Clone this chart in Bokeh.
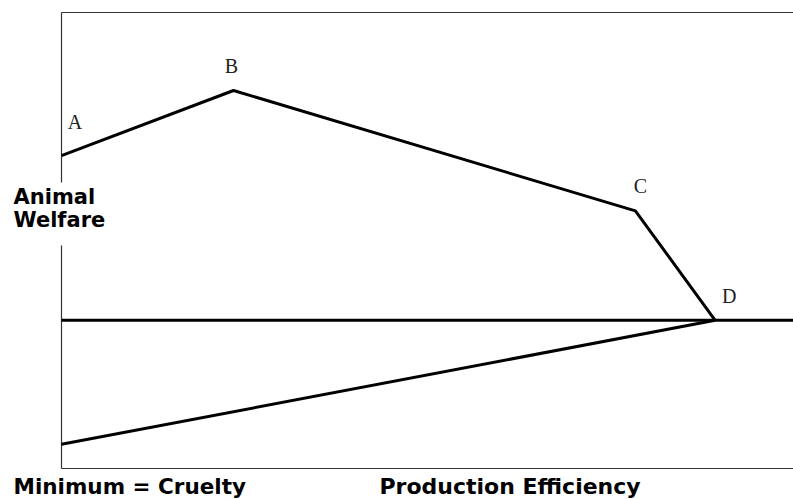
from bokeh.plotting import figure
from bokeh.models import Range1d, Label, ColumnDataSource
from bokeh.core.properties import value
from bokeh.embed import file_html
from bokeh.resources import INLINE

# ---- data (production efficiency 0-100, animal welfare 0-100) ----
point_names = ["A", "B", "C", "D"]
efficiency = [0.0, 23.5, 78.4, 89.3]
welfare = [68.6, 82.9, 56.5, 32.5]
minimum_level = 32.5           # horizontal "minimum welfare" line
cruelty_x = [0.0, 89.3]
cruelty_y = [5.3, 32.5]

# pixel scale helpers (layout only)
PX_X = 7.32
PX_Y = 4.56

p = figure(width=793, height=499, output_backend="svg", toolbar_location=None,
           x_range=Range1d(-61 / PX_X, 100), y_range=Range1d(-31 / PX_Y, 468 / PX_Y),
           min_border=0, min_border_left=0, min_border_right=0,
           min_border_top=0, min_border_bottom=0)
p.xaxis.visible = False
p.yaxis.visible = False
p.grid.visible = False
p.outline_line_color = None
p.background_fill_color = "white"
p.border_fill_color = "white"

border = dict(line_color="#333333", line_width=1.2)
# frame borders: top, bottom, left (with gap for label)
p.segment(x0=[0, 0, 0, 0], y0=[100, 0, 100, 48.9], x1=[100, 100, 0, 0], y1=[100, 0, 62.7, 0], **border)

# curves
p.line(efficiency, welfare, line_color="black", line_width=3)
p.line([0, 100], [minimum_level, minimum_level], line_color="black", line_width=3)
p.line(cruelty_x, cruelty_y, line_color="black", line_width=3)

src = ColumnDataSource(dict(x=efficiency, y=welfare, t=point_names,
                            xo=[13.5, -2, 5, 14], yo=[-34, -24, -24.5, -24]))
p.text(x="x", y="y", text="t", source=src, x_offset="xo", y_offset="yo",
       text_font=value("Liberation Serif"), text_font_size="20px",
       text_align="center", text_baseline="alphabetic", text_color="#222222")

lab = dict(text_font="DejaVu Sans", text_font_style="bold", text_color="black",
           text_baseline="alphabetic")
p.add_layout(Label(x=-48 / PX_X, y=(468 - 196) / PX_Y, text="Animal", text_font_size="21px", **lab))
p.add_layout(Label(x=-48 / PX_X, y=(468 - 219) / PX_Y, text="Welfare", text_font_size="21px", **lab))
p.add_layout(Label(x=-48 / PX_X, y=-18 / PX_Y, text="Minimum = Cruelty", text_font_size="21.5px", **lab))
p.add_layout(Label(x=318 / PX_X, y=-18 / PX_Y, text="Production Efficiency", text_font_size="22px", **lab))

open("out.html", "w").write(file_html(p, INLINE))
